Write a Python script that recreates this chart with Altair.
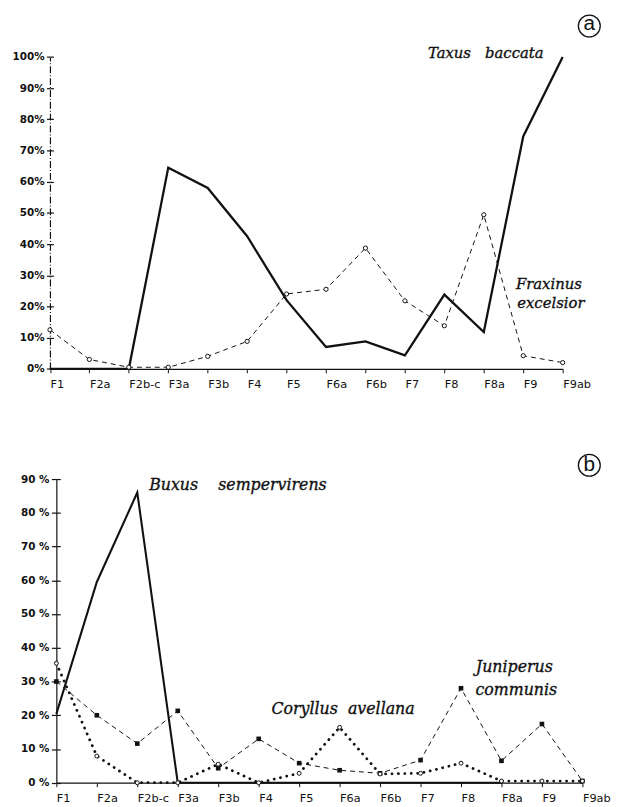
import altair as alt
import pandas as pd

# ---------------- data ----------------
categories = ["F1", "F2a", "F2b-c", "F3a", "F3b", "F4", "F5", "F6a",
              "F6b", "F7", "F8", "F8a", "F9", "F9ab"]

# panel (a)
taxus_baccata = [0, 0, 0, 64.5, 58, 42.5, 22, 7, 8.8, 4.3, 23.8, 11.8, 74.5, 100]
fraxinus_excelsior = [12.5, 3, 0.5, 0.5, 4, 8.8, 24, 25.5, 38.7, 21.8, 13.8, 49.4, 4.2, 2]

# panel (b)
buxus_sempervirens = [20.4, 59.5, 86, 0, 0, 0, 0, 0, 0, 0, 0, 0, None, None]
juniperus_communis = [30, 20, 11.6, 21.3, 4.3, 13, 5.8, 3.7, 2.8, 6.7, 28, 6.5, 17.4, 0.5]
coryllus_avellana = [35.4, 7.9, 0, 0, 5.5, 0, 2.8, 16.4, 2.6, 2.8, 5.8, 0.5, 0.5, 0.5]

yticks_a = list(range(0, 101, 10))
yticks_b = list(range(0, 91, 10))

# ---------------- layout ----------------
W, H = 613, 799
INK = "#111111"

XR_A, YD_A, YR_A = [42.5, 562], [0, 100], [360.3, 44.3]
XR_B, YD_B, YR_B = [49, 582], [0, 90], [779.7, 472]


def xsc(r):
    return alt.Scale(type="point", domain=categories, range=r, padding=0)


def ysc(d, r):
    return alt.Scale(type="linear", domain=d, range=r, nice=False, zero=False)


def x_axis(yr):
    return alt.Axis(orient="bottom", offset=yr[0] - H, labelAlign="left", labelAngle=0,
                    labelFont="DejaVu Sans", labelFontSize=11.5, labelColor=INK,
                    labelPadding=6, labelOverlap=False, labelBound=False, labelFlush=False,
                    tickSize=4, tickColor=INK, tickWidth=1,
                    domainColor=INK, domainWidth=1.3, grid=False)


def y_axis(xr, ticks, expr, dash=None, tick=4):
    kw = dict(orient="left", offset=-xr[0], values=ticks, labelExpr=expr,
              labelFont="DejaVu Sans", labelFontSize=10.5, labelFontWeight="bold",
              labelColor=INK, labelPadding=2.5, tickSize=tick, tickColor=INK,
              tickWidth=1.2, domainColor=INK, domainWidth=1.2, grid=False)
    if dash:
        kw["domainDash"] = dash
    return alt.Axis(**kw)


def y_axis_in(xr, ticks, tick=3.5):
    return alt.Axis(orient="right", offset=xr[0] - W, values=ticks, labels=False,
                    domain=False, tickSize=tick, tickColor=INK, tickWidth=1.2, grid=False)


def series(values, xr, yd, yr, mark, xaxis=None, yaxis=None, **mk):
    df = pd.DataFrame({"cat": categories, "v": values})
    return getattr(alt.Chart(df), mark)(**mk).encode(
        x=alt.X("cat:N", scale=xsc(xr), axis=xaxis, title=None),
        y=alt.Y("v:Q", scale=ysc(yd, yr), axis=yaxis, title=None),
    )


def label(text, cat, val, xr, yd, yr, dx, dy, size):
    df = pd.DataFrame({"cat": [cat], "v": [val], "t": [text]})
    return alt.Chart(df).mark_text(
        dx=dx, dy=dy, align="center", baseline="alphabetic",
        font="DejaVu Serif", fontStyle="italic",
        fontSize=size, color=INK, stroke=INK, strokeWidth=0.35
    ).encode(
        x=alt.X("cat:N", scale=xsc(xr), axis=None),
        y=alt.Y("v:Q", scale=ysc(yd, yr), axis=None),
        text="t:N",
    )


def badge(letter, cx, cy, ty):
    df = pd.DataFrame({"t": [letter]})
    ring = alt.Chart(df).mark_point(shape="circle", size=491, filled=False,
                                    stroke=INK, strokeWidth=1.3, opacity=1).encode(
        x=alt.value(cx), y=alt.value(cy))
    txt = alt.Chart(df).mark_text(font="Liberation Sans", fontSize=21, align="center",
                                  baseline="middle", color=INK).encode(
        x=alt.value(cx), y=alt.value(ty), text="t:N")
    return [ring, txt]


open_circle = alt.OverlayMarkDef(shape="circle", size=18, filled=False, fill="white",
                                 stroke=INK, strokeWidth=1, opacity=1)
square = alt.OverlayMarkDef(shape="square", size=22, filled=True, color=INK, opacity=1)

layers = [
    # ---- panel (a) ----
    series(taxus_baccata, XR_A, YD_A, YR_A, "mark_line",
           xaxis=x_axis(YR_A),
           yaxis=y_axis(XR_A, yticks_a, "datum.value + '%'", dash=[7, 2, 1, 2], tick=3.5),
           color=INK, strokeWidth=2.3),
    series(fraxinus_excelsior, XR_A, YD_A, YR_A, "mark_line",
           yaxis=y_axis_in(XR_A, yticks_a, 3.5),
           color=INK, strokeWidth=1, strokeDash=[5, 4], point=open_circle),
    label("Taxus\u00a0\u00a0\u00a0baccata", "F9", 100, XR_A, YD_A, YR_A, -38, 1, 15),
    label("Fraxinus", "F9", 20, XR_A, YD_A, YR_A, 26, -18, 15),
    label("excelsior", "F9", 20, XR_A, YD_A, YR_A, 28, 2, 15),
    # ---- panel (b) ----
    series(buxus_sempervirens, XR_B, YD_B, YR_B, "mark_line",
           xaxis=x_axis(YR_B),
           yaxis=y_axis(XR_B, yticks_b, "datum.value + ' %'", tick=5),
           color=INK, strokeWidth=2.1),
    series(juniperus_communis, XR_B, YD_B, YR_B, "mark_line",
           yaxis=y_axis_in(XR_B, yticks_b, 4),
           color=INK, strokeWidth=1, strokeDash=[5, 4], point=square),
    series(coryllus_avellana, XR_B, YD_B, YR_B, "mark_line",
           color=INK, strokeWidth=2.8, strokeDash=[0.1, 6.4], strokeCap="round",
           point=alt.OverlayMarkDef(shape="circle", size=16, filled=False, fill="white",
                                    stroke=INK, strokeWidth=1, opacity=1)),
    label("Buxus\u00a0\u00a0\u00a0\u00a0sempervirens", "F3b", 90, XR_B, YD_B, YR_B, 20, 11, 16),
    label("Coryllus\u00a0\u00a0avellana", "F6a", 0, XR_B, YD_B, YR_B, 3.5, -69.7, 16),
    label("Juniperus", "F8", 0, XR_B, YD_B, YR_B, 54, -111.7, 16),
    label("communis", "F8", 0, XR_B, YD_B, YR_B, 56, -88.7, 16),
]
layers += badge("a", 589, 13, 11.5)
layers += badge("b", 589, 458, 458)

chart = alt.layer(*layers).resolve_scale(
    x="independent", y="independent"
).properties(
    width=W, height=H, padding=0,
    autosize=alt.AutoSizeParams(type="none"),
).configure_view(strokeWidth=0)

chart.save("out.html", embed_options={"renderer": "svg", "actions": False})
